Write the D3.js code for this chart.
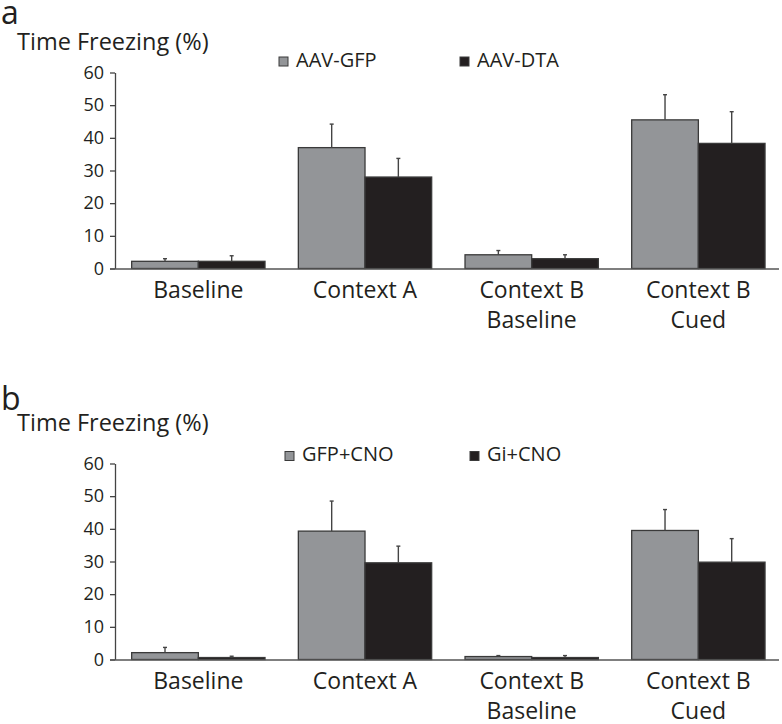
<!DOCTYPE html>
<html>
<head>
<meta charset="utf-8">
<script src="https://cdn.jsdelivr.net/npm/d3@7"></script>
<style>
  html, body { margin: 0; padding: 0; background: #fff; }
  svg { display: block; font-family: "Open Sans", "Noto Sans", sans-serif; }
</style>
</head>
<body>
<svg id="chart" width="782" height="724"></svg>
<script>
// ---- data ----
const categories = ["Baseline", "Context A", "Context B\nBaseline", "Context B\nCued"];
const yTicks = [0, 10, 20, 30, 40, 50, 60];

const seriesA = ["AAV-GFP", "AAV-DTA"];
const aGfpMean = [2.2, 37.0, 4.2, 45.5];
const aGfpErr  = [0.8, 7.2, 1.3, 7.7];
const aDtaMean = [2.2, 28.0, 3.0, 38.3];
const aDtaErr  = [1.7, 5.7, 1.2, 9.7];

const seriesB = ["GFP+CNO", "Gi+CNO"];
const bGfpMean = [2.1, 39.3, 0.9, 39.5];
const bGfpErr  = [1.6, 9.2, 0.3, 6.4];
const bGiMean  = [0.6, 29.6, 0.6, 29.8];
const bGiErr   = [0.4, 5.1, 0.6, 7.2];

const colors = ["#939598", "#231f20"];
const yLabel = "Time Freezing (%)";

const svg = d3.select("#chart");

function panel(opts) {
  const g = svg.append("g");
  const y = d3.scaleLinear().domain([0, 60]).range([opts.y0, opts.y0 - 196]);
  const x = d3.scaleBand().domain(categories).range([115, 781.7]).paddingInner(0.2).paddingOuter(0.1);
  const xs = d3.scaleBand().domain(opts.series).range([0, x.bandwidth()]);

  // panel letter
  g.append("text").attr("x", 1).attr("y", opts.letterY)
    .attr("font-size", 32).attr("fill", "#231f20").text(opts.letter);
  // y title
  g.append("text").attr("x", 17).attr("y", opts.titleY)
    .attr("font-size", 23.5).attr("fill", "#231f20").text(yLabel);

  // legend
  opts.series.forEach((s, i) => {
    const lx = opts.legendX[i];
    g.append("rect").attr("x", lx).attr("y", opts.legendY - 9.5)
      .attr("width", 9).attr("height", 9)
      .attr("fill", colors[i]).attr("stroke", "#3a3a3a").attr("stroke-width", 1);
    g.append("text").attr("x", lx + 17).attr("y", opts.legendY)
      .attr("font-size", 20).attr("fill", "#231f20").text(s);
  });

  // bars
  const data = categories.map((c, ci) => opts.series.map((s, si) => ({
    c, s, si, mean: opts.means[si][ci], err: opts.errs[si][ci]
  })));
  const grp = g.selectAll("g.cat").data(data).join("g")
    .attr("class", "cat").attr("transform", (d, i) => `translate(${x(categories[i])},0)`);
  grp.selectAll("rect").data(d => d).join("rect")
    .attr("x", d => xs(d.s)).attr("width", xs.bandwidth())
    .attr("y", d => y(d.mean)).attr("height", d => y(0) - y(d.mean))
    .attr("fill", d => colors[d.si]).attr("stroke", "#3a3a3a").attr("stroke-width", 1.3);
  // error bars (upper only)
  grp.selectAll("line.err").data(d => d).join("line").attr("class", "err")
    .attr("x1", d => xs(d.s) + xs.bandwidth() / 2).attr("x2", d => xs(d.s) + xs.bandwidth() / 2)
    .attr("y1", d => y(d.mean)).attr("y2", d => y(d.mean + d.err))
    .attr("stroke", "#444").attr("stroke-width", 1.4);
  grp.selectAll("line.cap").data(d => d).join("line").attr("class", "cap")
    .attr("x1", d => xs(d.s) + xs.bandwidth() / 2 - 2).attr("x2", d => xs(d.s) + xs.bandwidth() / 2 + 2)
    .attr("y1", d => y(d.mean + d.err)).attr("y2", d => y(d.mean + d.err))
    .attr("stroke", "#444").attr("stroke-width", 1.4);

  // y axis
  const ya = g.append("g").attr("transform", "translate(115,0)")
    .call(d3.axisLeft(y).tickValues(yTicks).tickSize(5).tickSizeOuter(0).tickPadding(6));
  ya.selectAll("path, line").attr("stroke", "#444").attr("stroke-width", 1.3);
  ya.selectAll("text").attr("font-size", 18).attr("fill", "#231f20")
    .attr("font-family", "'Open Sans', sans-serif");

  // x axis
  const xa = g.append("g").attr("transform", `translate(0,${opts.y0})`)
    .call(d3.axisBottom(x).tickSize(0).tickSizeOuter(0).tickPadding(12));
  xa.select(".domain").attr("stroke", "#555").attr("stroke-width", 1.5).attr("d", `M110,0.5H779`);
  xa.selectAll(".tick text").each(function(d) {
    const t = d3.select(this);
    t.text(null).attr("font-size", 23).attr("fill", "#231f20")
      .attr("font-family", "'Open Sans', sans-serif").attr("dy", null).attr("y", 0);
    d.split("\n").forEach((line, i) => {
      t.append("tspan").attr("x", 0).attr("y", 29 + i * 30).text(line);
    });
  });
}

panel({
  letter: "a", letterY: 24, titleY: 50, y0: 268.5,
  series: seriesA, means: [aGfpMean, aDtaMean], errs: [aGfpErr, aDtaErr],
  legendX: [279, 460], legendY: 66.5
});
panel({
  letter: "b", letterY: 410, titleY: 431, y0: 659.5,
  series: seriesB, means: [bGfpMean, bGiMean], errs: [bGfpErr, bGiErr],
  legendX: [285, 470], legendY: 461
});
</script>
</body>
</html>
